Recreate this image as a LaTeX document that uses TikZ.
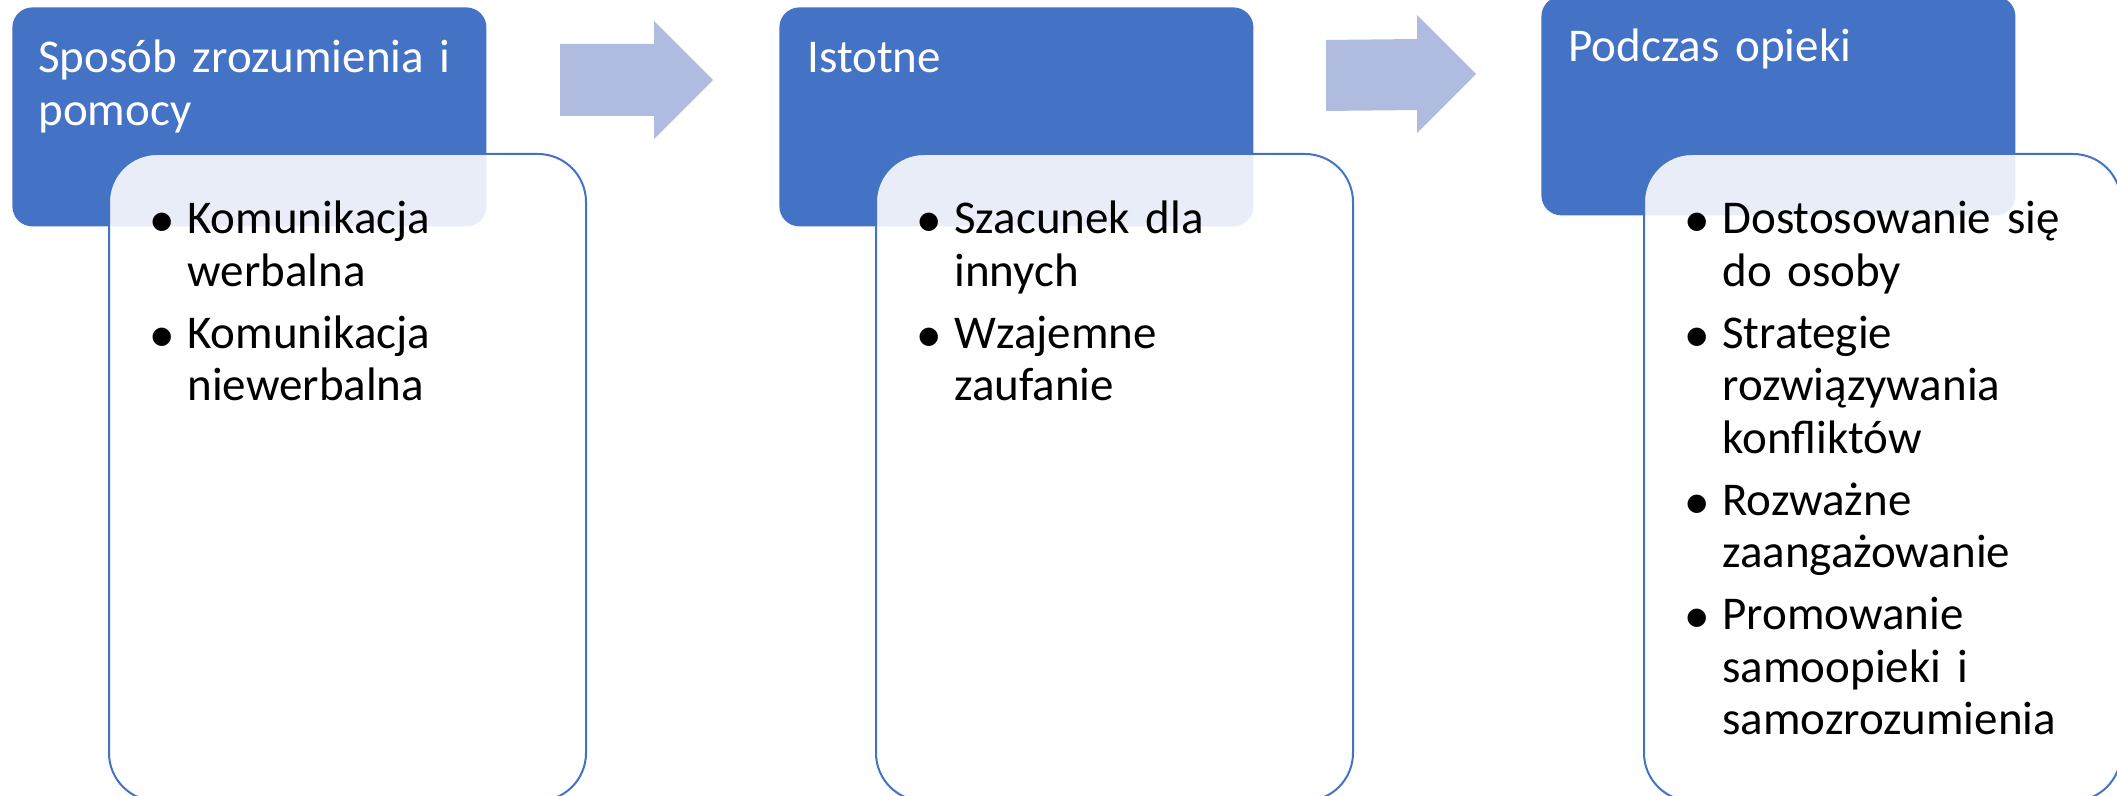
\documentclass[tikz,border=0pt]{standalone}
\usepackage{fontspec}
\setmainfont{Carlito}
\newfontfamily\bulfont{DejaVu Sans}
\usepackage{tikz}
\usetikzlibrary{positioning}

\definecolor{hdrblue}{HTML}{4472C4}
\definecolor{arrblue}{HTML}{B0BCDF}
\newcommand{\bul}[1]{\hangindent=18pt\hangafter=1\noindent\makebox[18pt][l]{\raisebox{2.7pt}{\bulfont\fontsize{12}{12}\selectfont ●}}#1\par}

\begin{document}
\begin{tikzpicture}[x=0.5pt, y=-0.5pt,
        header/.style={fill=hdrblue, rounded corners=10pt, inner sep=0, anchor=north west, minimum width=237pt, minimum height=109.5pt},
        panel/.style={draw=hdrblue, line width=1pt, fill=white, fill opacity=0.88, rounded corners=24pt, inner sep=0, anchor=north west, minimum width=238.5pt, minimum height=323.5pt},
        hdtext/.style={text=white, inner sep=0, anchor=base west, text width=230pt, font=\fontsize{23.5}{26.5}\selectfont, execute at begin node={\raggedright}},
        bodytext/.style={text=black, inner sep=0, anchor=base west, text width=215pt, font=\fontsize{23.5}{26.25}\selectfont, execute at begin node={\raggedright\setlength{\parskip}{4.75pt}}},
        blockarrow/.style={fill=arrblue}]
        \useasboundingbox (0,0) rectangle (2117,796);
        \node[header] (h1) at (12,7) {};
        \node[header] (h2) at (779,7) {};
        \node[header] (h3) at (1541,-4) {};
        \node[panel] (p1) at (108,153) {};
        \node[panel] (p2) at (875,153) {};
        \node[panel] (p3) at (1643,153) {};
        \fill[blockarrow] (560,44) -- (654,44) -- (654,21) -- (713,80) -- (654,139) -- (654,116) -- (560,116) -- cycle;
        \fill[blockarrow] (1326,40) -- (1417,39) -- (1417,15) -- (1476,74) -- (1417,133) -- (1417,110) -- (1326,111) -- cycle;
        \node[hdtext] (h1t) at (38,73) {Sposób zrozumienia i\newline pomocy};
        \node[hdtext] (h2t) at (807,73) {Istotne};
        \node[hdtext] (h3t) at (1568,62) {Podczas opieki};
        \node[bodytext] (p1t) at (151,234) {\bul{Komunikacja\newline werbalna}\bul{Komunikacja\newline niewerbalna}};
        \node[bodytext] (p2t) at (918,234) {\bul{Szacunek dla\newline innych}\bul{Wzajemne\newline zaufanie}};
        \node[bodytext] (p3t) at (1686,234) {\bul{Dostosowanie się\newline do osoby}\bul{Strategie\newline rozwiązywania\newline konfliktów}\bul{Rozważne\newline zaangażowanie}\bul{Promowanie\newline samoopieki i\newline samozrozumienia}};
      \end{tikzpicture}
\end{document}
